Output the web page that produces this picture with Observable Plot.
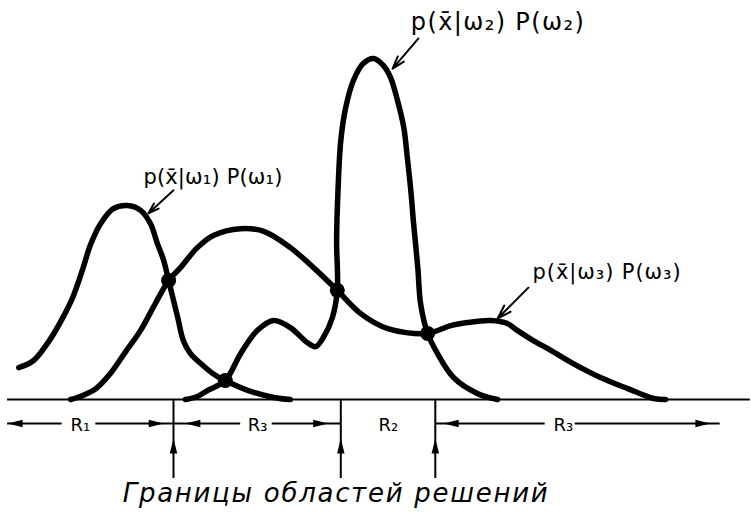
<!DOCTYPE html>
<html>
<head>
<meta charset="utf-8">
<script src="https://cdn.jsdelivr.net/npm/d3@7"></script>
<script src="https://cdn.jsdelivr.net/npm/@observablehq/plot@0.6"></script>
<style>
  body { margin: 0; background: #fff; }
</style>
</head>
<body>
<div id="chart"></div>
<script>
// Class-conditional densities weighted by priors, p(x|ωi)P(ωi), as [x, value] pairs
const classOne = [
  [-3.1, 9.4], [-1.0, 11.5], [1.4, 17.8], [3.3, 24.6], [4.6, 30.1], [6.1, 38.9],
  [7.1, 45.4], [8.6, 51.9], [10.4, 56.3], [12.4, 57.2], [14.3, 55.8], [15.7, 51.9],
  [16.7, 46.0], [17.6, 41.0], [18.3, 35.1], [19.6, 24.2], [20.4, 17.4], [21.4, 13.6],
  [22.9, 10.6], [24.6, 7.7], [26.4, 5.6], [29.6, 2.7], [33.3, 0.6], [35.7, 0]
];
const classTwo = [
  [20.7, 0], [22.4, 0.9], [23.9, 2.7], [26.4, 5.6], [28.6, 13.6], [31.0, 20.4],
  [33.3, 23.3], [35.7, 21.2], [38.1, 16.8], [39.3, 15.6], [40.4, 18.3], [41.7, 24.2],
  [42.4, 32.2], [42.3, 46.9], [42.5, 61.7], [42.9, 76.4], [43.6, 86.1], [44.7, 94.1],
  [46.1, 99.1], [47.6, 100.6], [49.0, 98.5], [50.0, 95.0], [51.0, 88.2], [51.9, 80.2],
  [52.4, 71.4], [52.9, 61.7], [53.3, 51.9], [53.9, 38.9], [54.3, 28.3], [55.3, 19.5],
  [56.7, 13.6], [59.0, 6.5], [62.4, 1.8], [65.3, 0]
];
const classThree = [
  [4.3, 0], [5.3, 0.6], [7.9, 3.2], [10.0, 7.7], [12.1, 13.9], [14.3, 20.4],
  [16.4, 28.3], [18.3, 35.1], [20.0, 38.9], [22.4, 44.8], [24.7, 48.4], [28.6, 50.4],
  [31.9, 49.6], [35.7, 44.8], [39.0, 38.9], [42.4, 32.2], [45.7, 25.4], [49.6, 20.9],
  [55.3, 19.5], [58.6, 21.8], [61.0, 22.7], [64.3, 23.3], [66.7, 22.4], [68.1, 20.4],
  [70.4, 17.4], [72.9, 14.5], [76.1, 10.6], [80.0, 6.5], [83.9, 3.2], [87.6, 0.3], [89.3, 0]
];

// Points where the curves cross
const crossings = [[18.3, 35.1], [26.4, 5.6], [42.4, 32.2], [55.3, 19.5]];

// Decision boundaries along x
const boundaries = [19.0, 42.9, 56.4];

// Decision regions below the axis
const regionNames = ["R₁", "R₃", "R₂", "R₃"];
const regionCenters = [5.7, 31.0, 49.7, 74.7];
const regionSegments = [[-4.7, 3.1], [7.9, 18.9], [18.9, 28.6], [33.1, 42.9], [56.4, 72.1], [76.4, 97.1]];
const leftHeads = [-4.7, 20.7, 57.6];
const rightHeads = [17.6, 41.1, 95.7];

// Curve labels and their pointers
const curveLabels = ["p(x̄|ω₁) P(ω₁)", "p(x̄|ω₂) P(ω₂)", "p(x̄|ω₃) P(ω₃)"];
const labelX = [14.7, 52.9, 70.3];
const labelY = [65.5, 111.2, 37.5];
const labelSize = [21, 24, 21];
const labelWidth = [139, 173, 148];
const pointerFrom = [[19.0, 61.7], [54.0, 106.5], [69.7, 33.0]];
const pointerTo = [[15.4, 54.9], [50.3, 97.6], [65.3, 23.9]];

const caption = "Границы областей решений";
const captionWidth = 425;

// Long narrow arrowhead with its tip at the origin, pointing up
const narrowHead = {
  draw(context, size) {
    const r = Math.sqrt(size / Math.PI);
    context.moveTo(0, 0);
    context.lineTo(r * 0.75, r * 3);
    context.lineTo(-r * 0.75, r * 3);
    context.closePath();
  }
};

const axisRow = -7.1;     // level of the region arrows
const tickBottom = -23.3; // lower end of the boundary markers
const boundaryHead = -11.5;

const labels = curveLabels.map((t, i) => ({t, x: labelX[i], y: labelY[i], s: labelSize[i]}));
const pointers = pointerFrom.map((f, i) => ({x1: f[0], y1: f[1], x2: pointerTo[i][0], y2: pointerTo[i][1]}));
const regions = regionNames.map((t, i) => ({t, x: regionCenters[i]}));

const curveStyle = {x: d => d[0], y: d => d[1], curve: "catmull-rom", stroke: "#000",
  strokeWidth: 5.5, strokeLinecap: "round", strokeLinejoin: "round"};

const chart = Plot.plot({
  width: 751,
  height: 515,
  marginTop: 0, marginRight: 0, marginBottom: 0, marginLeft: 0,
  style: {background: "#fff", fontFamily: "DejaVu Sans", color: "#000"},
  x: {domain: [0, 100], range: [40, 740], axis: null},
  y: {domain: [0, 100], range: [399, 60], axis: null},
  marks: [
    Plot.ruleY([0], {x1: -4.7, x2: 101.4, stroke: "#000", strokeWidth: 2}),
    Plot.ruleX(boundaries, {x: d => d, y1: 0, y2: tickBottom, stroke: "#000", strokeWidth: 2}),
    Plot.dot(boundaries, {x: d => d, y: boundaryHead, symbol: narrowHead, r: 5, fill: "#000", stroke: null}),
    Plot.ruleY(regionSegments, {y: axisRow, x1: d => d[0], x2: d => d[1], stroke: "#000", strokeWidth: 2}),
    Plot.dot(leftHeads, {x: d => d, y: axisRow, symbol: narrowHead, r: 5, rotate: -90, fill: "#000", stroke: null}),
    Plot.dot(rightHeads, {x: d => d, y: axisRow, symbol: narrowHead, r: 5, rotate: 90, fill: "#000", stroke: null}),
    Plot.text(regions, {x: "x", y: axisRow, text: "t", fontSize: 18, fill: "#000", dy: 2}),
    Plot.line(classThree, curveStyle),
    Plot.line(classOne, curveStyle),
    Plot.line(classTwo, curveStyle),
    Plot.dot(crossings, {x: d => d[0], y: d => d[1], r: 7.5, fill: "#000", stroke: null}),
    Plot.arrow(pointers, {x1: "x1", y1: "y1", x2: "x2", y2: "y2", stroke: "#000",
      strokeWidth: 2, headLength: 11, headAngle: 35}),
    Plot.text(labels, {x: "x", y: "y", text: "t", fontSize: "s", textAnchor: "start", fill: "#000",
      className: "curve-label"}),
    Plot.text([caption], {x: 42.1, y: -27.7, text: d => d, fontSize: 26, fontStyle: "italic",
      fill: "#000", className: "caption"})
  ]
});

// Stretch the labels and caption to their lettered widths
d3.select(chart).selectAll(".curve-label text").each(function(_, i) {
  d3.select(this).attr("textLength", labelWidth[i]).attr("lengthAdjust", "spacing");
});
d3.select(chart).selectAll(".caption text")
  .attr("textLength", captionWidth).attr("lengthAdjust", "spacing");

document.getElementById("chart").append(chart);
</script>
</body>
</html>
